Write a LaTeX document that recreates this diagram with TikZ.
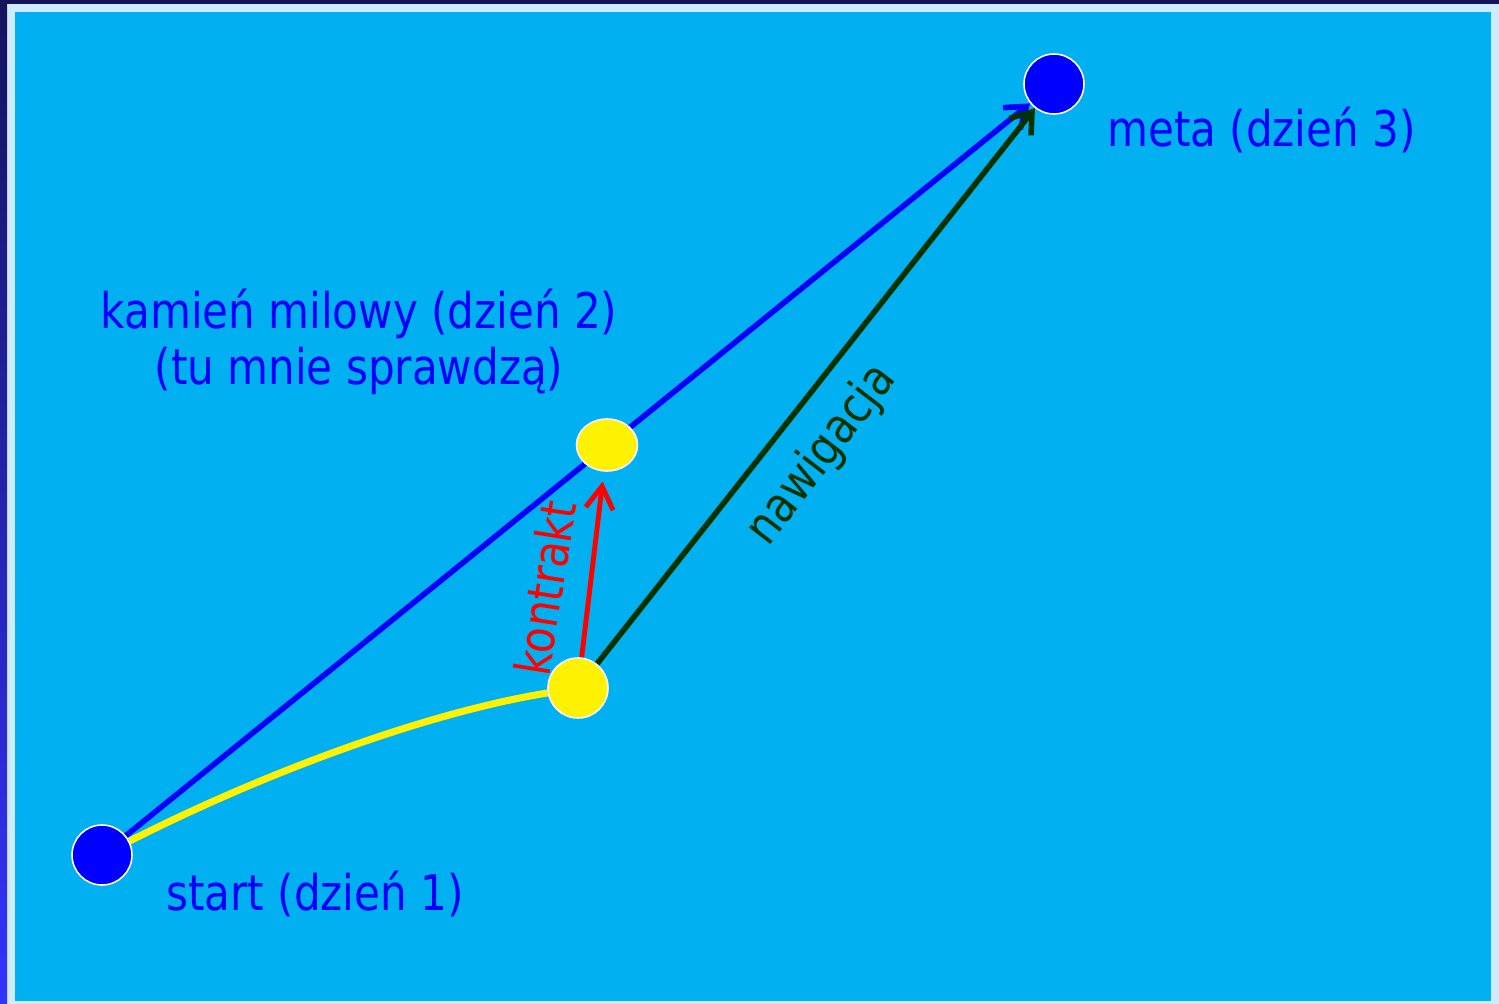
\documentclass[tikz,border=0pt]{standalone}
\usepackage{fontspec}
\setmainfont[FakeStretch=0.855]{DejaVu Sans}
\usetikzlibrary{arrows.meta,shapes.geometric}

\pgfdeclarelayer{frame}
\pgfdeclarelayer{paths}
\pgfsetlayers{frame,paths,main}

\definecolor{sky}{RGB}{0,176,240}
\definecolor{pale}{RGB}{207,235,255}
\definecolor{navy}{RGB}{20,20,90}
\definecolor{edgeblue}{RGB}{51,51,255}
\definecolor{darkgreen}{RGB}{0,51,0}

\begin{document}
\begin{tikzpicture}[x=0.02cm,y=-0.02cm,
  dayspot/.style={circle,fill=blue,draw=white,line width=0.9pt,minimum size=1.2cm,inner sep=0pt},
  checkspot/.style={fill=yellow,draw=white,line width=0.9pt,inner sep=0pt},
  lbl/.style={font=\fontsize{28pt}{32pt}\selectfont,inner sep=0pt},
  route/.style={line width=3.2pt},
  tip/.style={-{Straight Barb[length=0.38cm,width=0.55cm]}}]

  \useasboundingbox (0,0) rectangle (1499,1004);

  % frame of the slide
  \begin{pgfonlayer}{frame}
    \fill[pale] (0,0) rectangle (1499,1004);
    \fill[navy] (0,0) rectangle (1499,4);
    \shade[top color=navy,bottom color=edgeblue] (0,0) rectangle (7,1004);
    \fill[sky] (15,12) rectangle (1491,1001);
  \end{pgfonlayer}

  % points of the plan
  \node[dayspot] (start) at (102,855) {};
  \node[dayspot] (meta) at (1054,84) {};
  \node[checkspot,ellipse,minimum width=1.22cm,minimum height=1.04cm] (milestone) at (607,445) {};
  \node[checkspot,circle,minimum size=1.2cm] (contract) at (578,688) {};

  % labels
  \node[lbl,text=blue,anchor=base west] (metatxt) at (1107,146) {meta (dzień 3)};
  \node[lbl,text=blue,anchor=base west] (starttxt) at (166,910) {start (dzień 1)};
  \node[lbl,text=blue,align=center] (miletxt) at (359,342) {kamień milowy (dzień 2)\\(tu mnie sprawdzą)};
  \node[lbl,text=red,rotate=81] (contracttxt) at (545,588) {kontrakt};
  \node[lbl,text=darkgreen,rotate=52.5] (navtxt) at (822,455) {nawigacja};

  \begin{pgfonlayer}{paths}
    \draw[route,blue,tip] (start) -- (meta);
    \draw[route,darkgreen,tip] (contract) -- (meta);
    \draw[yellow,line width=4pt] (start) .. controls (270,770) and (430,712) .. (contract);
    \draw[red,line width=2.8pt,-{Straight Barb[length=0.45cm,width=0.55cm]},shorten >=0.2cm] (contract) -- (milestone);
  \end{pgfonlayer}
\end{tikzpicture}
\end{document}
